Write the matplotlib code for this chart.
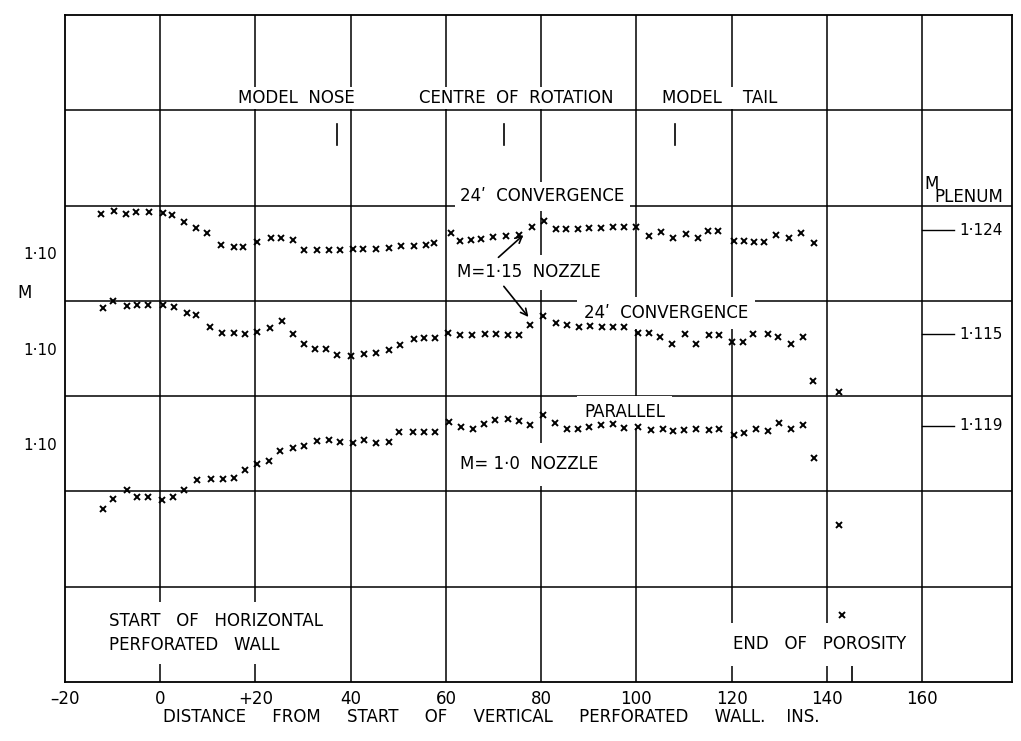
import matplotlib
matplotlib.use("Agg")
import matplotlib.pyplot as plt

plt.rcParams['font.family'] = ['DejaVu Sans']

# ---------------- data ----------------
# 24' convergence, M = 1.15 nozzle (upper set)
x_top = [-12.5, -9.8, -7.2, -5.1, -2.3, 0.5, 2.4, 5.0, 7.6, 9.9, 12.8, 15.4, 17.4,
         20.4, 23.3, 25.4, 27.8, 30.3, 33.0, 35.5, 37.8, 40.4, 42.5, 45.3, 48.0,
         50.6, 53.4, 55.8, 57.6, 61.1, 63.0, 65.3, 67.4, 69.8, 72.6, 75.4, 78.0,
         80.7, 83.1, 85.2, 87.7, 90.1, 92.6, 95.0, 97.5, 99.9, 102.7, 105.2, 107.6,
         110.4, 112.9, 115.0, 117.1, 120.6, 122.7, 124.8, 126.9, 129.3, 132.1,
         134.6, 137.4]
m_top = [1.141, 1.144, 1.141, 1.143, 1.143, 1.142, 1.140, 1.133, 1.126, 1.121, 1.109,
         1.106, 1.106, 1.112, 1.116, 1.116, 1.114, 1.103, 1.103, 1.103, 1.103, 1.104,
         1.104, 1.104, 1.105, 1.108, 1.108, 1.109, 1.111, 1.121, 1.113, 1.114, 1.115,
         1.117, 1.118, 1.119, 1.127, 1.134, 1.125, 1.125, 1.125, 1.126, 1.126, 1.127,
         1.127, 1.127, 1.118, 1.122, 1.116, 1.120, 1.116, 1.123, 1.123, 1.113, 1.113,
         1.112, 1.112, 1.119, 1.116, 1.121, 1.111]

# 24' convergence, M = 1.15 nozzle (middle set)
x_mid = [-12.1, -10.0, -7.0, -4.8, -2.5, 0.5, 2.8, 5.6, 7.6, 10.4, 13.0, 15.4, 17.9,
         20.4, 23.0, 25.6, 27.8, 30.1, 32.6, 34.9, 37.2, 40.1, 42.9, 45.3, 48.0,
         50.4, 53.2, 55.5, 57.8, 60.4, 63.0, 65.5, 68.3, 70.5, 73.0, 75.3, 77.7,
         80.5, 83.1, 85.4, 87.9, 90.3, 92.8, 95.0, 97.5, 100.3, 102.7, 105.0, 107.5,
         110.3, 112.5, 115.2, 117.4, 120.1, 122.3, 124.6, 127.6, 129.7, 132.4,
         134.9, 137.1, 142.6]
m_mid = [1.142, 1.150, 1.145, 1.146, 1.146, 1.146, 1.144, 1.137, 1.135, 1.123, 1.116,
         1.116, 1.115, 1.117, 1.121, 1.129, 1.115, 1.105, 1.099, 1.099, 1.093, 1.092,
         1.094, 1.095, 1.098, 1.104, 1.110, 1.111, 1.111, 1.116, 1.114, 1.114, 1.115,
         1.115, 1.114, 1.114, 1.125, 1.134, 1.127, 1.125, 1.123, 1.124, 1.123, 1.123,
         1.123, 1.116, 1.116, 1.112, 1.105, 1.115, 1.105, 1.114, 1.114, 1.107, 1.107,
         1.115, 1.115, 1.112, 1.105, 1.112, 1.066, 1.054]

# parallel walls, M = 1.0 nozzle (lower set)
x_bot = [-12.1, -9.9, -7.0, -4.8, -2.5, 0.4, 2.6, 5.0, 7.8, 10.7, 13.1, 15.5, 17.9,
         20.4, 22.8, 25.2, 27.8, 30.3, 33.0, 35.4, 37.8, 40.4, 42.9, 45.4, 48.0,
         50.2, 53.0, 55.5, 57.8, 60.7, 63.2, 65.6, 67.9, 70.3, 73.0, 75.3, 77.7,
         80.5, 83.0, 85.4, 87.7, 90.1, 92.6, 95.2, 97.5, 100.3, 103.1, 105.5, 107.6,
         110.1, 112.5, 115.2, 117.4, 120.6, 122.7, 125.1, 127.6, 130.0, 132.4,
         135.1, 137.4, 142.6, 143.1]
m_bot = [1.032, 1.042, 1.052, 1.044, 1.044, 1.041, 1.044, 1.052, 1.062, 1.063, 1.063,
         1.064, 1.072, 1.079, 1.082, 1.092, 1.096, 1.098, 1.103, 1.104, 1.102, 1.101,
         1.104, 1.101, 1.102, 1.112, 1.112, 1.112, 1.112, 1.123, 1.118, 1.116, 1.121,
         1.125, 1.126, 1.124, 1.120, 1.130, 1.122, 1.115, 1.116, 1.118, 1.120, 1.121,
         1.117, 1.118, 1.114, 1.115, 1.113, 1.114, 1.115, 1.114, 1.116, 1.109, 1.111,
         1.115, 1.113, 1.122, 1.115, 1.120, 1.085, 1.015, 0.920]

offsets = [0.0, 0.1, 0.2]            # vertical shift of each set on the sheet
plenum = [1.124, 1.115, 1.119]       # plenum Mach numbers
plenum_labels = ["1·124", "1·115", "1·119"]

x_ticks = [-20, 0, 20, 40, 60, 80, 100, 120, 140, 160]
x_ticklabels = ["–20", "0", "+20", "40", "60", "80", "100", "120", "140", "160"]
y_grid = [0.75, 0.85, 0.95, 1.05, 1.15, 1.25]
y_ticks = [1.10, 1.00, 0.90]
y_ticklabels = ["1·10", "1·10", "1·10"]

# ---------------- figure ----------------
fig = plt.figure(figsize=(10.21, 7.41), dpi=100)
ax = fig.add_axes([65 / 1021, 59 / 741, 947 / 1021, 667 / 741])
ax.set_xlim(-20, 178.9)
ax.set_ylim(0.65, 1.35)

LW = 1.1
for xv in x_ticks[1:]:
    ax.axvline(xv, color='black', lw=LW, zorder=1)
for yv in y_grid:
    ax.axhline(yv, color='black', lw=LW, zorder=1)
for s in ax.spines.values():
    s.set_linewidth(1.3)

for xs, ms, off in [(x_top, m_top, offsets[0]), (x_mid, m_mid, offsets[1]),
                    (x_bot, m_bot, offsets[2])]:
    ax.plot(xs, [m - off for m in ms], linestyle='none', marker='x',
            color='black', ms=4.8, mew=1.4, zorder=6)

# plenum markers
for p, off, lab in zip(plenum, offsets, plenum_labels):
    ax.plot([160, 166.8], [p - off, p - off], color='black', lw=1.0, zorder=2)
    ax.text(167.8, p - off, lab, fontsize=11, ha='left', va='center')

ax.set_xticks(x_ticks)
ax.set_xticklabels(x_ticklabels, fontsize=12)
ax.set_yticks(y_ticks)
ax.set_yticklabels(y_ticklabels, fontsize=11)
ax.tick_params(length=0, pad=6)

fs = 12


def wb(p):
    return dict(facecolor='white', edgecolor='none', pad=p)


# model position markers
for xm in [37.2, 72.1, 108.2]:
    ax.plot([xm, xm], [1.214, 1.236], color='black', lw=1.2, zorder=2)
ax.plot([145.2, 145.2], [0.65, 0.674], color='black', lw=1.2, zorder=2)

ax.text(28.6, 1.2625, "MODEL  NOSE", fontsize=fs, ha='center', va='center', bbox=wb(1.5), zorder=4)
ax.text(74.8, 1.2625, "CENTRE  OF  ROTATION", fontsize=fs, ha='center', va='center', bbox=wb(1.5), zorder=4)
ax.text(117.6, 1.2625, "MODEL    TAIL", fontsize=fs, ha='center', va='center', bbox=wb(1.5), zorder=4)

ax.text(160.5, 1.173, "M", fontsize=fs, ha='left', va='center', zorder=4)
ax.text(162.6, 1.1587, "PLENUM", fontsize=fs, ha='left', va='center', zorder=4)

ax.text(80.3, 1.160, "24ʹ  CONVERGENCE", fontsize=fs, ha='center', va='center',
        bbox=wb(4), zorder=4)
ax.text(77.5, 1.080, "M=1·15  NOZZLE", fontsize=fs, ha='center', va='center',
        bbox=wb(6), zorder=4)
ax.text(106.3, 1.037, "24ʹ  CONVERGENCE", fontsize=fs, ha='center', va='center',
        bbox=wb(5), zorder=4)
ax.text(97.5, 0.9332, "PARALLEL", fontsize=fs, ha='center', va='center',
        bbox=wb(5), zorder=4)
ax.text(77.5, 0.8787, "M= 1·0  NOZZLE", fontsize=fs, ha='center', va='center',
        bbox=wb(9), zorder=4)
ax.text(-10.7, 0.7016, "START   OF   HORIZONTAL\nPERFORATED   WALL", fontsize=fs,
        ha='left', va='center', linespacing=1.45, bbox=wb(7), zorder=4)
ax.text(120.2, 0.6896, "END   OF   POROSITY", fontsize=fs, ha='left', va='center',
        bbox=wb(9), zorder=4)

arrow = dict(arrowstyle='->', color='black', lw=1.2, mutation_scale=12)
ax.annotate("", xy=(76.7, 1.121), xytext=(70.6, 1.0937), arrowprops=arrow, zorder=5)
ax.annotate("", xy=(77.7, 1.0308), xytext=(71.8, 1.0675), arrowprops=arrow, zorder=5)

fig.text(25 / 1021, 1 - 293 / 741, "M", fontsize=12, ha='center', va='center')
fig.text(491 / 1021, 1 - 717 / 741,
         "DISTANCE     FROM     START     OF     VERTICAL     PERFORATED     WALL.    INS.",
         fontsize=12, ha='center', va='center')

fig.savefig("out.png", dpi=100)
